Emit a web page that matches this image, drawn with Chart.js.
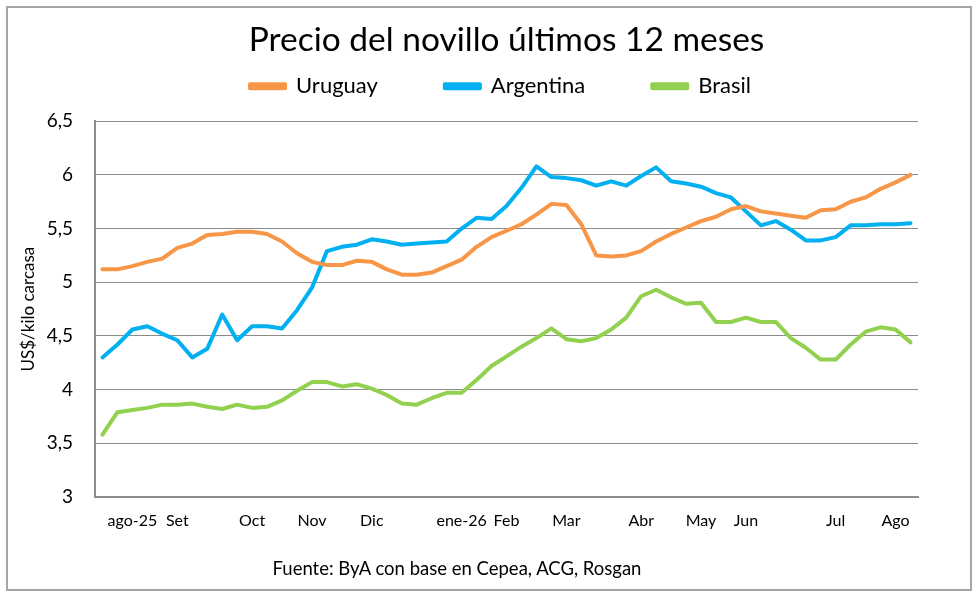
<!DOCTYPE html>
<html>
<head>
<meta charset="utf-8">
<script src="https://cdn.jsdelivr.net/npm/chart.js@4.4.1/dist/chart.umd.min.js"></script>
<style>
  html, body { margin: 0; padding: 0; background: #fff; }
  #wrap { position: relative; width: 976px; height: 600px; }
  #frame { position: absolute; left: 6px; top: 6px; width: 966px; height: 585px; box-sizing: border-box; border: 2px solid #a6a6a6; pointer-events: none; }
  #c { position: absolute; left: 0; top: 0; }
  #src { position: absolute; left: 0; width: 914px; top: 557px; text-align: center; font-family: Lato, sans-serif; font-size: 18.5px; color: #000; white-space: nowrap; }
</style>
</head>
<body>
<div id="wrap">
  <canvas id="c" width="976" height="600"></canvas>
  <div id="frame"></div>
  <div id="src">Fuente: ByA con base en Cepea, ACG, Rosgan</div>
</div>
<script>
const categories = ['', '', 'ago-25', '', '', 'Set', '', '', '', '', 'Oct', '', '', '', 'Nov', '', '', '', 'Dic', '', '', '', '', '', 'ene-26', '', '', 'Feb', '', '', '', 'Mar', '', '', '', '', 'Abr', '', '', '', 'May', '', '', 'Jun', '', '', '', '', '', 'Jul', '', '', '', 'Ago', ''];

const uruguay = [5.12,5.12,5.15,5.19,5.22,5.32,5.36,5.44,5.45,5.47,
                 5.47,5.45,5.38,5.27,5.19,5.16,5.16,5.20,5.19,5.12,
                 5.07,5.07,5.09,5.15,5.21,5.33,5.42,5.48,5.54,5.63,
                 5.73,5.72,5.54,5.25,5.24,5.25,5.29,5.38,5.45,5.51,
                 5.57,5.61,5.68,5.71,5.66,5.64,5.62,5.60,5.67,5.68,
                 5.75,5.79,5.87,5.93,6.00];

const argentina = [4.30,4.42,4.56,4.59,4.52,4.46,4.30,4.38,4.70,4.46,
                   4.59,4.59,4.57,4.74,4.95,5.29,5.33,5.35,5.40,5.38,
                   5.35,5.36,5.37,5.38,5.50,5.60,5.59,5.71,5.88,6.08,
                   5.98,5.97,5.95,5.90,5.94,5.90,5.99,6.07,5.94,5.92,
                   5.89,5.83,5.79,5.66,5.53,5.57,5.49,5.39,5.39,5.42,
                   5.53,5.53,5.54,5.54,5.55];

const brasil = [3.58,3.79,3.81,3.83,3.86,3.86,3.87,3.84,3.82,3.86,
                3.83,3.84,3.90,3.99,4.07,4.07,4.03,4.05,4.01,3.95,
                3.87,3.86,3.92,3.97,3.97,4.09,4.22,4.31,4.40,4.48,
                4.57,4.47,4.45,4.48,4.56,4.67,4.87,4.93,4.86,4.80,
                4.81,4.63,4.63,4.67,4.63,4.63,4.48,4.39,4.28,4.28,
                4.42,4.54,4.58,4.56,4.44];

const yTicks = [3, 3.5, 4, 4.5, 5, 5.5, 6, 6.5];
const yTickLabels = ['3', '3,5', '4', '4,5', '5', '5,5', '6', '6,5'];

const FONT = 'Lato, "Open Sans", sans-serif';

// Legend box: keep the library legend but control its height and drawing offset
const LEGEND_HEIGHT = 61;
const LEGEND_SHIFT_X = -6;
const LEGEND_SHIFT_Y = 52;
const legendLayout = {
  id: 'legendLayout',
  beforeLayout(chart) {
    const lg = chart.legend;
    if (!lg || lg._adjusted) return;
    lg._adjusted = true;
    const fit = lg.fit;
    lg.fit = function () { fit.apply(this, arguments); this.height = LEGEND_HEIGHT; };
    const draw = lg.draw;
    lg.draw = function () {
      const c = this.ctx;
      const b = this.bottom;
      this.bottom = this.top + LEGEND_HEIGHT + LEGEND_SHIFT_Y + 40;
      c.save(); c.translate(LEGEND_SHIFT_X, -LEGEND_SHIFT_Y);
      draw.apply(this, arguments);
      c.restore();
      this.bottom = b;
    };
  }
};

function series(label, data, color) {
  return {
    label: label, data: data, borderColor: color, backgroundColor: color,
    borderWidth: 4, pointRadius: 0, pointHoverRadius: 0, tension: 0,
    borderJoinStyle: 'round', borderCapStyle: 'round', fill: false
  };
}

new Chart(document.getElementById('c'), {
  type: 'line',
  plugins: [legendLayout],
  data: {
    labels: categories,
    datasets: [
      series('Uruguay', uruguay, '#F79646'),
      series('Argentina', argentina, '#00B0F0'),
      series('Brasil', brasil, '#92D050')
    ]
  },
  options: {
    responsive: false,
    animation: false,
    devicePixelRatio: 1,
    layout: { padding: { left: 0, right: 58, top: 0, bottom: 0 } },
    plugins: {
      tooltip: { enabled: false },
      title: {
        display: true, fullSize: false,
        text: 'Precio del novillo últimos 12 meses',
        color: '#000',
        font: { family: FONT, size: 33.5, weight: 'normal', lineHeight: 1.2 },
        padding: { top: 20, bottom: 0 }
      },
      legend: {
        display: true, fullSize: false,
        labels: {
          color: '#000',
          font: { family: FONT, size: 22 },
          boxWidth: 35, boxHeight: 4, padding: 67
        }
      }
    },
    scales: {
      x: {
        offset: true,
        grid: { display: false, drawTicks: false },
        border: { display: true, color: '#8c8c8c', width: 2 },
        ticks: { autoSkip: false, maxRotation: 0, minRotation: 0, padding: 14, color: '#000', font: { family: FONT, size: 16 } },
        afterFit: function (s) { s.height = 103; }
      },
      y: {
        min: 3, max: 6.5,
        afterBuildTicks: function (s) { s.ticks = yTicks.map(v => ({ value: v })); },
        grid: { color: '#8c8c8c', lineWidth: 1, drawTicks: false },
        border: { display: true, color: '#8c8c8c', width: 2 },
        ticks: {
          padding: 22, color: '#000', font: { family: FONT, size: 19 },
          callback: function (v) { const i = yTicks.indexOf(v); return i >= 0 ? yTickLabels[i] : ''; }
        },
        title: { display: true, text: 'US$/kilo carcasa', color: '#000', font: { family: FONT, size: 17 }, padding: { top: 18, bottom: 0 } },
        afterFit: function (s) { s.width = 95; }
      }
    }
  }
});
</script>
</body>
</html>
